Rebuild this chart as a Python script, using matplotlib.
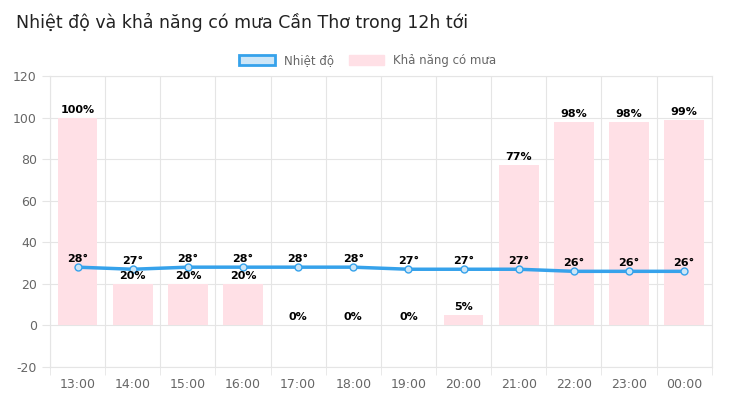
import matplotlib
matplotlib.use("Agg")
import matplotlib.pyplot as plt
from matplotlib.patches import Patch

plt.rcParams["axes.unicode_minus"] = False

hours = ["13:00","14:00","15:00","16:00","17:00","18:00","19:00","20:00","21:00","22:00","23:00","00:00"]
temps = [28,27,28,28,28,28,27,27,27,26,26,26]
rain = [100,20,20,20,0,0,0,5,77,98,98,99]
yticks = [-20,0,20,40,60,80,100,120]

fig = plt.figure(figsize=(7.36,4.09), dpi=100)
ax = fig.add_axes([0.068,0.103,0.899,0.711])
x = list(range(len(hours)))
ax.bar(x, rain, width=0.72, color="#ffe0e6", zorder=2)
ax.plot(x, temps, color="#36a2eb", lw=2.5, zorder=3, marker="o", ms=5,
        mfc="#cde6f7", mec="#36a2eb", mew=1)
for i in x:
    ax.text(i, rain[i]+1.5, f"{rain[i]}%", ha="center", va="bottom", fontsize=8, fontweight="bold", color="#000", zorder=4)
    ax.text(i, temps[i]+1.5, f"{temps[i]}°", ha="center", va="bottom", fontsize=8, fontweight="bold", color="#000", zorder=4)
ax.set_xlim(-0.5, len(hours)-0.5)
ax.set_ylim(-20,120)
ax.set_yticks(yticks)
ax.set_xticks(x)
ax.set_xticklabels(hours)
ax.set_xticks([i+0.5 for i in range(-1,len(hours))], minor=True)
ax.tick_params(axis="x", which="major", length=0, colors="#666", labelsize=9, pad=8)
ax.tick_params(axis="x", which="minor", length=6, color="#e5e5e5")
ax.tick_params(axis="y", length=6, color="#e5e5e5", colors="#666", labelsize=9)
ax.grid(axis="y", color="#e5e5e5", lw=0.8, zorder=0)
ax.grid(axis="x", which="minor", color="#e5e5e5", lw=0.8, zorder=0)
for s in ax.spines.values():
    s.set_color("#e5e5e5")
fig.text(0.022, 0.945, "Nhiệt độ và khả năng có mưa Cần Thơ trong 12h tới", fontsize=12.5, color="#222", va="center")
handles = [Patch(facecolor="#cde6f7", edgecolor="#36a2eb", lw=2, label="Nhiệt độ"),
           Patch(facecolor="#ffe0e6", edgecolor="#ffe0e6", label="Khả năng có mưa")]
fig.legend(handles=handles, loc="center", bbox_to_anchor=(0.5,0.852), ncol=2, frameon=False,
           fontsize=8.5, labelcolor="#666", handlelength=3, handleheight=1, columnspacing=1.2)
fig.savefig("out.png", dpi=100)
